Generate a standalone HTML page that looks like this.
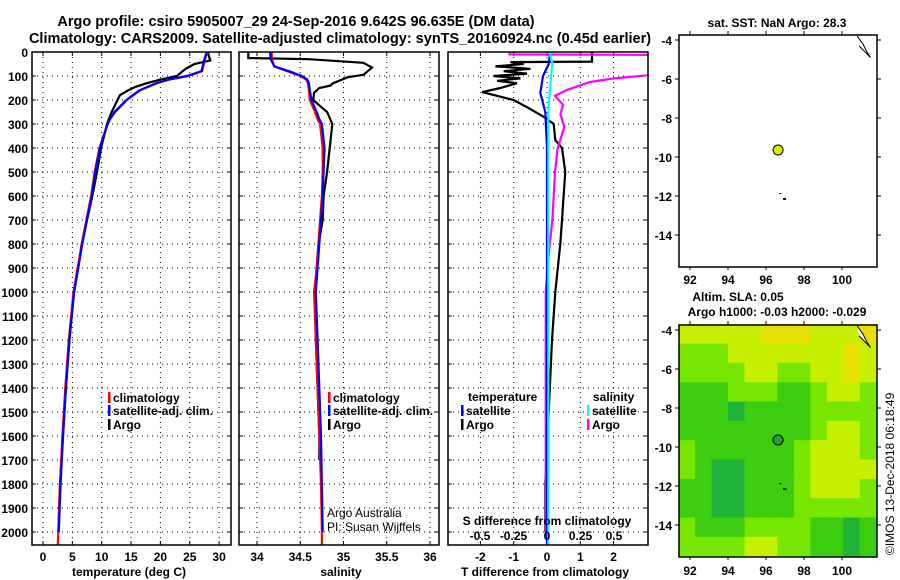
<!DOCTYPE html>
<html><head><meta charset="utf-8"><style>
body{margin:0;background:#fff}
svg{display:block;font-family:"Liberation Sans",sans-serif;font-weight:bold}
</style></head><body>
<svg id="c" width="900" height="580" viewBox="0 0 900 580">
<text x="296" y="26" font-size="14.5" text-anchor="middle">Argo profile: csiro 5905007_29 24-Sep-2016 9.642S 96.635E (DM data)</text>
<text x="340" y="43" font-size="14.5" text-anchor="middle">Climatology: CARS2009. Satellite-adjusted climatology: synTS_20160924.nc (0.45d earlier)</text>
<g id="p1"></g>
<g id="p2"></g>
<g id="p3"></g>
<g id="m1"></g>
<g id="m2"></g>
<text x="894" y="555" font-size="12" font-weight="normal" transform="rotate(-90 894 555)">©IMOS 13-Dec-2018 06:18:49</text>
</svg>
<script>
const depthTicks=[0,100,200,300,400,500,600,700,800,900,1000,1100,1200,1300,1400,1500,1600,1700,1800,1900,2000];
const tTicks=[0,5,10,15,20,25,30];
const sTicks=[34,34.5,35,35.5,36];
const dtTicks=[-2,-1,0,1,2];
const dsTicks=[-0.5,-0.25,0,0.25,0.5];
const dsTickLabels=["-0.5","-0.25","0","0.25","0.5"];
const argoDepth=[0,20,35,50,70,90,100,115,130,145,160,180,220,250,300,400,500,600,700,800,900,1000,1200,1400,1600,1800,2000];
const argoTemp=[28.1,28.3,28.5,25.8,24.3,23.3,22.8,20.0,17.7,15.8,14.5,13.1,12.3,11.7,10.9,9.9,9.2,8.4,7.5,6.6,6.0,5.3,4.5,3.9,3.4,2.9,2.6];
const climDepth=[0,30,60,80,100,115,130,160,200,250,280,300,400,500,600,700,800,900,1000,1200,1400,1600,1800,2000,2060];
const climTemp=[28.0,27.6,27.3,27.1,24.7,21.5,19.4,16.5,14.3,12.3,11.4,11.0,9.6,8.8,8.2,7.4,6.6,5.9,5.2,4.4,3.8,3.3,2.9,2.6,2.5];
const satTemp=[27.9,27.5,27.2,27.0,24.5,21.4,19.3,16.4,14.2,12.2,11.4,11.0,9.7,8.9,8.3,7.5,6.7,6.0,5.3,4.5,3.9,3.4,3.0,2.7,2.6];
const argoSDepth=[0,25,30,45,65,95,105,130,140,150,170,200,250,300,400,500,600,700,800,1000,1200,1400,1600,1700];
const argoSal=[33.9,33.9,34.6,35.23,35.33,35.23,35.05,34.88,34.85,34.72,34.66,34.65,34.81,34.87,34.84,34.81,34.77,34.76,34.71,34.67,34.68,34.7,34.72,34.72];
const climSal=[34.17,34.17,34.2,34.35,34.5,34.57,34.59,34.6,34.61,34.67,34.7,34.73,34.76,34.76,34.75,34.73,34.71,34.69,34.66,34.68,34.7,34.72,34.74,34.75,34.75];
const satSal=[34.15,34.16,34.2,34.37,34.52,34.58,34.6,34.61,34.63,34.69,34.72,34.75,34.78,34.77,34.76,34.74,34.72,34.7,34.68,34.7,34.72,34.74,34.75,34.76,34.76];
const dTDepth=[0,40,42,50,60,70,80,90,100,110,120,130,150,167,200,230,270,300,367,400,500,600,700,800,1000,1200,1500,1800,2000];
const dTArgo=[1.35,1.35,-1.1,-0.7,-1.55,-0.5,-1.3,-0.6,-1.6,-0.8,-1.5,-0.9,-1.4,-1.95,-1.0,-0.6,-0.1,0.2,0.25,0.45,0.55,0.5,0.45,0.4,0.25,0.15,0.05,-0.05,-0.05];
const dSDepth=[0,10,12,40,70,96,110,125,158,183,220,260,312,400,500,600,700,800,1000,1200,1500,1800,2000];
const dSArgo=[-0.28,-0.28,0.9,0.9,0.85,0.78,0.5,0.32,0.15,0.06,0.12,0.1,0.13,0.08,0.06,0.05,0.04,0.02,-0.01,-0.01,-0.01,-0.01,-0.01];
const satDDepth=[0,50,100,170,250,400,600,1000,2000,2060];
const dTSat=[0.1,0.05,-0.12,-0.2,-0.05,0,0,0,0,0];
const dSSat=[0.02,0.04,0.03,0.02,0.01,0.01,0.01,0.01,0.01,0.01];
const lonTicks=[92,94,96,98,100];
const latTicks=[-4,-6,-8,-10,-12,-14];
const argoLon=96.635, argoLat=-9.642;
const slaGrid=[
[3,3,3,3,3,4,4,4,3,3,3,4],
[2,2,2,3,3,3,3,3,3,3,4,3],
[2,2,2,2,3,3,2,2,3,3,4,3],
[1,1,1,2,2,2,1,1,2,3,3,2],
[1,1,1,0,1,1,1,1,2,2,2,2],
[1,1,1,1,1,1,1,1,2,3,3,2],
[2,1,1,1,1,1,1,2,3,3,3,2],
[2,1,0,0,1,1,1,2,3,3,3,3],
[1,1,0,0,1,1,1,2,3,3,3,2],
[1,1,0,0,1,1,1,2,2,2,2,2],
[2,1,1,1,2,2,2,2,1,1,0,1],
[2,2,2,2,3,3,2,2,1,1,0,1]];
const slaColors=["#1fb33a","#3ccc10","#77e600","#c6f000","#e8e000"];

const NS="http://www.w3.org/2000/svg";
function el(p,t,a){const e=document.createElementNS(NS,t);for(const k in a)e.setAttribute(k,a[k]);p.appendChild(e);return e;}
const Y0=52,K=0.24,YB=545;
const yD=d=>Y0+d*K;
const xT=v=>43+v*5.87;
const xS=v=>257+(v-34)*86.5;
const xDT=v=>547+v*33.3;
const xDS=v=>547+v*134;

function panel(g,x0,x1,gridXs,name){
  for(const d of depthTicks){const l=el(g,'line',{x1:x0,x2:x1,y1:yD(d),y2:yD(d),stroke:'#000','stroke-dasharray':'1,4','stroke-width':1});
  
  }
  for(const x of gridXs){const l=el(g,'line',{x1:x,x2:x,y1:Y0,y2:YB,stroke:'#000','stroke-dasharray':'1,4','stroke-width':1});
  
  
  el(g,'line',{x1:x,x2:x,y1:YB,y2:YB-4,stroke:'#000'});el(g,'line',{x1:x,x2:x,y1:Y0,y2:Y0+4,stroke:'#000'});}
  for(const d of depthTicks){el(g,'line',{x1:x0,x2:x0+4,y1:yD(d),y2:yD(d),stroke:'#000'});el(g,'line',{x1:x1,x2:x1-4,y1:yD(d),y2:yD(d),stroke:'#000'});}
}
function frame(g,x0,x1,name){const r=el(g,'rect',{x:x0,y:Y0,width:x1-x0,height:YB-Y0,fill:'none',stroke:'#000','stroke-width':1.5});

}
function line(g,xs,ds,fx,color,name,w){
  const pts=xs.map((v,i)=>fx(v).toFixed(1)+','+yD(ds[i]).toFixed(1)).join(' ');
  const p=el(g,'polyline',{points:pts,fill:'none',stroke:color,'stroke-width':w||2.2});
  
  
}
function txt(g,x,y,s,a,name,size){const t=el(g,'text',{x:x,y:y,'font-size':size||12,'text-anchor':a||'start'});t.textContent=s;

return t;}
function legend(g,x,y,color,label){el(g,'rect',{x:x,y:y-10,width:2.5,height:11,fill:color});
const t=txt(g,x+5,y,label,'start','legend-entry');}

const p1=document.getElementById('p1');
const clipDefs=el(document.getElementById('c'),'defs',{});
[[32,231,'c1'],[239,439,'c2'],[448,648,'c3']].forEach(a=>{const cp=el(clipDefs,'clipPath',{id:a[2]});el(cp,'rect',{x:a[0],y:Y0,width:a[1]-a[0],height:YB-Y0});});
panel(p1,32,231,tTicks.map(xT),'temperature');
const g1=el(p1,'g',{'clip-path':'url(#c1)'});
line(g1,argoTemp,argoDepth,xT,'#000','argo-temperature-line');
line(g1,climTemp,climDepth,xT,'#f00','climatology-temperature-line');
line(g1,satTemp.slice(0,-1),climDepth.slice(0,-1),xT,'#00f','satellite-temperature-line');
frame(p1,32,231,'temperature-panel');
for(const d of depthTicks)txt(p1,28,yD(d)+5,String(d),'end','depth-tick-label');
tTicks.forEach(v=>txt(p1,xT(v),561,String(v),'middle','temperature-tick-label'));
txt(p1,129,576,'temperature (deg C)','middle','x-axis-title-temperature');
legend(p1,108,402,'#f00','climatology');legend(p1,108,415,'#00f','satellite-adj. clim.');legend(p1,108,429,'#000','Argo');

const p2=document.getElementById('p2');
panel(p2,239,439,sTicks.map(xS),'salinity');
const g2=el(p2,'g',{'clip-path':'url(#c2)'});
line(g2,argoSal,argoSDepth,xS,'#000','argo-salinity-line');
line(g2,climSal,climDepth,xS,'#f00','climatology-salinity-line');
line(g2,satSal.slice(0,-1),climDepth.slice(0,-1),xS,'#00f','satellite-salinity-line');
frame(p2,239,439,'salinity-panel');
sTicks.forEach(v=>txt(p2,xS(v),561,String(v),'middle','salinity-tick-label'));
txt(p2,341,576,'salinity','middle','x-axis-title-salinity');
legend(p2,328,402,'#f00','climatology');legend(p2,328,415,'#00f','satellite-adj. clim.');legend(p2,328,429,'#000','Argo');
const a1=txt(p2,327,517,'Argo Australia','start','credit-argo-australia');a1.setAttribute('font-weight','normal');
const a2=txt(p2,327,531,'PI: Susan Wijffels','start','credit-pi');a2.setAttribute('font-weight','normal');

const p3=document.getElementById('p3');
panel(p3,448,648,dtTicks.map(xDT),'difference');
const g3=el(p3,'g',{'clip-path':'url(#c3)'});
line(g3,dTArgo,dTDepth,xDT,'#000','argo-temperature-difference-line');
line(g3,dSArgo,dSDepth,xDS,'#f0f','argo-salinity-difference-line');
line(g3,dTSat,satDDepth,xDT,'#00f','satellite-temperature-difference-line');
line(g3,dSSat,satDDepth,xDS,'#0ff','satellite-salinity-difference-line');
frame(p3,448,648,'difference-panel');
dtTicks.forEach(v=>txt(p3,xDT(v),561,String(v),'middle','t-difference-tick-label'));
txt(p3,545,576,'T difference from climatology','middle','x-axis-title-t-difference');
txt(p3,547,525,'S difference from climatology','middle','s-difference-axis-title');
dsTicks.forEach((v,i)=>txt(p3,xDS(v),540,dsTickLabels[i],'middle','s-difference-tick-label'));
txt(p3,468,401,'temperature','start','legend-title-temperature');
txt(p3,593,401,'salinity','start','legend-title-salinity');
legend(p3,461,415,'#00f','satellite');legend(p3,461,429,'#000','Argo');
legend(p3,587,415,'#0ff','satellite');legend(p3,587,429,'#f0f','Argo');

const xL=v=>690+(v-92)*19;
function drawMap(g,top,bottom,name,labelY,fill){
  const yL=v=>top+5+(-4-v)*19.5;
  if(fill){
    const rows=slaGrid.length, cols=slaGrid[0].length;
    const lon0=91.4,lon1=101.8,lat0=-3.7,lat1=-15.6;
    for(let r=0;r<rows;r++)for(let c=0;c<cols;c++){
      const la=lat0+(lat1-lat0)*r/rows, la2=lat0+(lat1-lat0)*(r+1)/rows;
      const lo=lon0+(lon1-lon0)*c/cols, lo2=lon0+(lon1-lon0)*(c+1)/cols;
      const cell=el(g,'rect',{x:xL(lo),y:yL(la),width:xL(lo2)-xL(lo)+0.5,height:yL(la2)-yL(la)+0.5,fill:slaColors[slaGrid[r][c]]});
      
      
    }
  }
  el(g,'polyline',{points:[[100.8,-3.8],[101.1,-4.2],[101.3,-4.6],[101.5,-4.9],[101.2,-4.6],[100.9,-4.3]].map(p=>xL(p[0])+','+yL(p[1])).join(' '),fill:'#fff',stroke:'#000','stroke-width':1});
  el(g,'rect',{x:xL(96.9),y:yL(-12.1),width:3,height:2,fill:'#000'});
  el(g,'rect',{x:xL(96.7),y:yL(-11.85),width:2,height:1,fill:'#000'});
  const dot=el(g,'circle',{cx:xL(argoLon),cy:yL(argoLat),r:5,fill:fill?'#2a9a3a':'#ddee00',stroke:'#000','stroke-width':1});
  
  
  const fr=el(g,'rect',{x:679,y:top,width:198,height:bottom-top,fill:'none',stroke:'#000','stroke-width':1.5});
  
  
  lonTicks.forEach(v=>{el(g,'line',{x1:xL(v),x2:xL(v),y1:top,y2:top-4,stroke:'#000'});el(g,'line',{x1:xL(v),x2:xL(v),y1:bottom,y2:bottom+3,stroke:'#000'});
    txt(g,xL(v),labelY,String(v),'middle','longitude-tick-label');});
  latTicks.forEach(v=>{el(g,'line',{x1:679,x2:675,y1:yL(v),y2:yL(v),stroke:'#000'});el(g,'line',{x1:877,x2:881,y1:yL(v),y2:yL(v),stroke:'#000'});
    txt(g,672,yL(v)+5,String(v),'end','latitude-tick-label');});
}
const m1=document.getElementById('m1');
drawMap(m1,35,267,'sst-map',284,false);
txt(m1,777,27,'sat. SST: NaN Argo: 28.3','middle','sst-map-title');
const m2=document.getElementById('m2');
drawMap(m2,325,557,'sla-map',575,true);
txt(m2,738,301,'Altim. SLA: 0.05','middle','sla-map-title');
txt(m2,777,316,'Argo h1000: -0.03 h2000: -0.029','middle','sla-map-subtitle');
</script>
</body></html>
